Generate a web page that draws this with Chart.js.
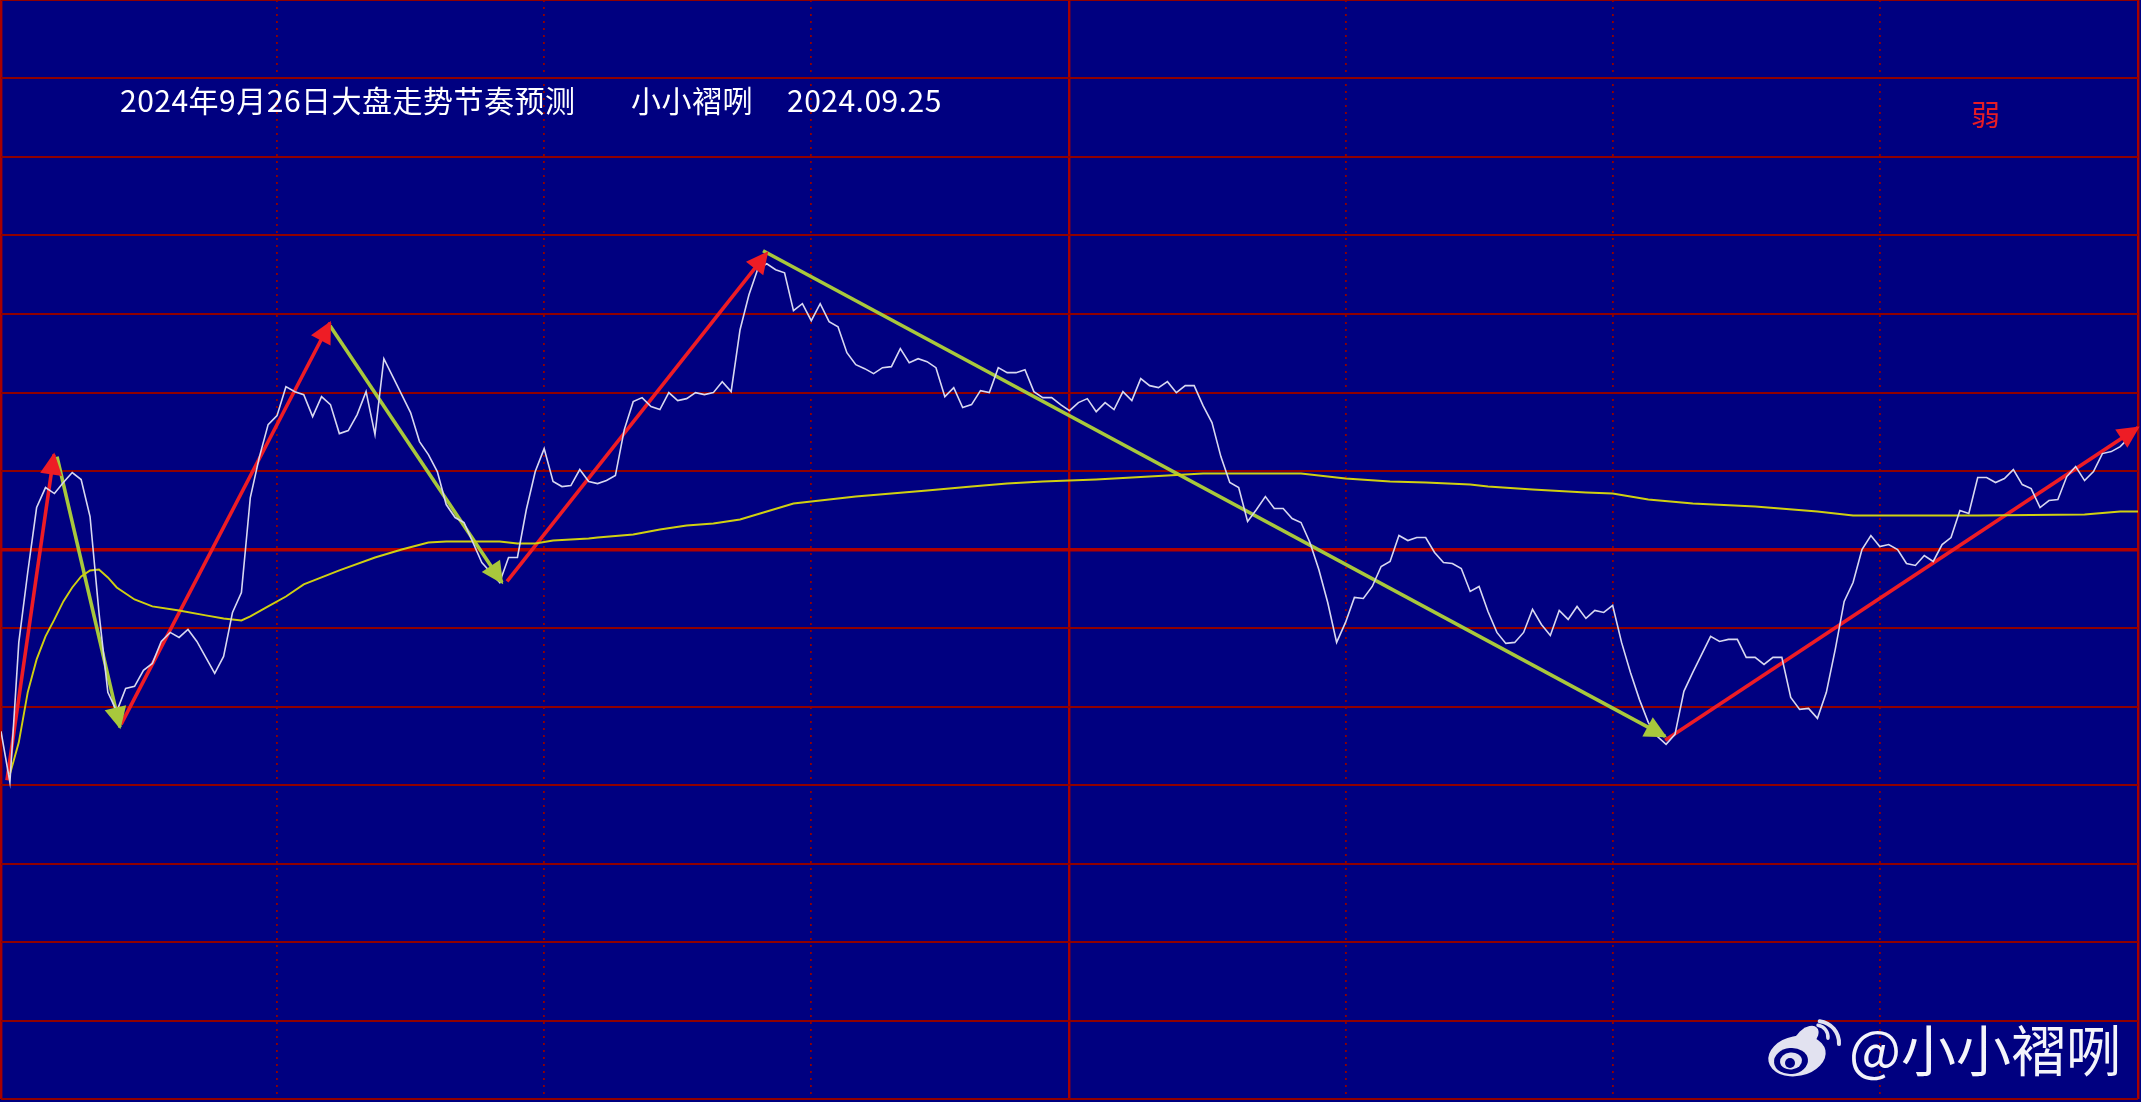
<!DOCTYPE html>
<html>
<head>
<meta charset="utf-8">
<title>2024年9月26日大盘走势节奏预测</title>
<script src="https://cdn.jsdelivr.net/npm/chart.js@4/dist/chart.umd.min.js"></script>
<style>
  html, body { margin: 0; padding: 0; background: #000080; overflow: hidden; }
  #wrap { width: 2141px; height: 1102px; }
</style>
</head>
<body>
<div id="wrap"><canvas id="chart" width="2141" height="1102"></canvas></div>
<script>
// minute line, one value per minute (240 minute session)
const priceLine = [
  -182,-233,-93,-23,42,62,56,67,77,70,33,-63,-143,-162,-139,-137,-121,-114,-92,-83,
  -88,-80,-92,-108,-124,-107,-63,-43,52,92,125,134,163,158,155,133,153,145,116,119,
  135,158,115,191,173,155,137,108,95,78,45,32,27,7,-13,-23,-33,-8,-8,40,
  78,101,68,63,64,80,68,66,69,74,120,148,152,143,140,157,149,151,157,155,
  157,168,158,220,255,281,286,280,277,239,246,229,246,228,223,197,185,181,176,182,
  183,201,187,191,188,182,153,162,142,145,159,157,182,177,177,180,158,152,152,145,
  139,147,151,138,147,140,158,149,171,164,162,168,157,164,164,144,127,93,67,62,
  28,40,53,41,41,31,27,7,-20,-53,-93,-73,-48,-49,-37,-17,-12,14,9,12,
  12,-3,-13,-14,-19,-42,-37,-62,-83,-94,-93,-83,-60,-75,-86,-61,-70,-57,-69,-61,
  -63,-56,-93,-123,-150,-173,-187,-195,-185,-142,-123,-105,-87,-92,-90,-90,-108,-108,-115,-108,
  -108,-148,-160,-159,-169,-143,-100,-52,-33,0,14,3,5,0,-14,-16,-6,-12,5,12,
  39,36,72,72,67,71,80,65,61,42,49,50,73,83,69,78,96,98,103,112
];

// slow average line, read at the minutes where it changes
const avgMinutes = [1,2,3,4,5,6,7,8,9,10,11,12,13,15,17,20,23,25,27,28,30,32,34,38,42,45,48,50,56,58,60,62,66,67,71,74,77,80,83,86,89,92,96,100,104,109,113,117,120,123,127,131,133,135,146,149,151,156,160,165,167,172,178,181,185,190,197,204,208,216,222,234,238,240];
const avgValues = [-225,-193,-143,-110,-87,-70,-52,-38,-27,-21,-20,-28,-38,-50,-57,-61,-66,-69,-71,-67,-57,-47,-35,-21,-8,0,7,8,8,6,6,9,11,12,15,20,24,26,30,38,46,49,53,56,59,63,66,68,69,70,72,74,75,76,76,73,71,68,67,65,63,60,57,56,50,46,43,38,34,34,34,35,38,38];

// hand drawn swing arrows: [start, end]
const upMinutes = [[0.67,5.95],[13.48,36.95],[56.83,86.03],[186.9,240]];
const upValues = [[-231,95],[-175,227],[-32,297],[-191,122]];
const downMinutes = [[6.29,13.36],[36.95,56.27],[85.58,186.9]];
const downValues = [[93,-178],[224,-33],[299,-187]];

// half hour marks, noon break is solid
const timeMarks = [0,31,61,91,120,151,181,211,240];
const solidMarks = [0,120,240];
const levelCount = 14;
const levelSpan = 1100;

const titleText = '2024年9月26日大盘走势节奏预测';
const authorText = '小小褶咧';
const dateText = '2024.09.25';
const signalText = '弱';
const watermarkText = '@小小褶咧';

function zip(xs, ys) {
  return xs.map((x, i) => ({ x: x, y: ys[i] }));
}

function arrowSets(xsList, ysList, color) {
  return xsList.map((xs, i) => ({
    data: zip(xs, ysList[i]),
    borderColor: color,
    borderWidth: 3.6,
    pointRadius: 0,
    arrowHead: color
  }));
}

const arrowHeads = {
  id: 'arrowHeads',
  afterDatasetsDraw(chart) {
    const c = chart.ctx;
    chart.data.datasets.forEach(ds => {
      if (!ds.arrowHead) return;
      const a = ds.data[0], b = ds.data[1];
      const x0 = chart.scales.x.getPixelForValue(a.x), y0 = chart.scales.y.getPixelForValue(a.y);
      const x1 = chart.scales.x.getPixelForValue(b.x), y1 = chart.scales.y.getPixelForValue(b.y);
      const ang = Math.atan2(y1 - y0, x1 - x0);
      c.save();
      c.translate(x1, y1);
      c.rotate(ang);
      c.fillStyle = ds.arrowHead;
      c.beginPath();
      c.moveTo(2, 0);
      c.lineTo(-20, -11);
      c.lineTo(-20, 11);
      c.closePath();
      c.fill();
      c.restore();
    });
  }
};

function drawWeibo(c) {
  c.save();
  c.fillStyle = '#e2e2f0';
  c.beginPath();
  c.ellipse(1797, 1056, 29, 20, -0.2, 0, Math.PI * 2);
  c.fill();
  c.beginPath();
  c.ellipse(1806, 1038, 15, 9, -0.75, 0, Math.PI * 2);
  c.fill();
  c.fillStyle = '#000080';
  c.beginPath();
  c.ellipse(1791, 1061, 17, 13, -0.1, 0, Math.PI * 2);
  c.fill();
  c.fillStyle = '#e2e2f0';
  c.beginPath();
  c.ellipse(1791, 1061, 11, 8.5, -0.1, 0, Math.PI * 2);
  c.fill();
  c.fillStyle = '#000080';
  c.beginPath();
  c.arc(1790, 1063, 5, 0, Math.PI * 2);
  c.fill();
  c.strokeStyle = '#e2e2f0';
  c.lineCap = 'round';
  c.lineWidth = 3.5;
  c.beginPath();
  c.arc(1816, 1037, 12, -1.4, 0.1);
  c.stroke();
  c.lineWidth = 4;
  c.beginPath();
  c.arc(1817, 1043, 22, -1.45, 0.05);
  c.stroke();
  c.restore();
}

const labels = {
  id: 'labels',
  afterDraw(chart) {
    const c = chart.ctx;
    c.save();
    c.textBaseline = 'middle';
    c.textAlign = 'left';
    c.fillStyle = '#ffffff';
    c.font = '30px "Noto Sans CJK SC"';
    c.letterSpacing = '0.5px';
    c.fillText(titleText, 120, 101);
    c.fillText(authorText, 631, 101);
    c.fillText(dateText, 787, 101);
    c.letterSpacing = '0px';
    c.fillStyle = '#e81c24';
    c.font = '29px "Noto Sans CJK SC"';
    c.fillText(signalText, 1971, 115);
    c.fillStyle = '#f4f4fa';
    c.font = '55px "Noto Sans CJK SC"';
    c.fillText(watermarkText, 1849, 1050);
    c.restore();
    drawWeibo(c);
  }
};

const background = {
  id: 'background',
  beforeDraw(chart) {
    chart.ctx.fillStyle = '#000080';
    chart.ctx.fillRect(0, 0, chart.width, chart.height);
  }
};

new Chart(document.getElementById('chart'), {
  type: 'line',
  data: {
    datasets: [
      { data: priceLine.map((v, i) => ({ x: i, y: v })), borderColor: '#d8d8f0', borderWidth: 1.6, pointRadius: 0 },
      { data: zip(avgMinutes, avgValues), borderColor: '#d0d010', borderWidth: 1.9, pointRadius: 0 }
    ].concat(arrowSets(downMinutes, downValues, '#a8c83c'), arrowSets(upMinutes, upValues, '#ee1c25'))
  },
  options: {
    responsive: false,
    animation: false,
    layout: { padding: { left: 1, right: 3, top: 0, bottom: 3 } },
    plugins: { legend: { display: false }, tooltip: { enabled: false }, title: { display: false } },
    elements: { line: { tension: 0 } },
    scales: {
      x: {
        type: 'linear',
        min: 0,
        max: 240,
        ticks: { display: false },
        afterBuildTicks: axis => { axis.ticks = timeMarks.map(v => ({ value: v })); },
        border: {
          display: false,
          dash: ctx => solidMarks.includes(ctx.tick.value) ? [] : [2, 5]
        },
        grid: {
          drawTicks: false,
          color: ctx => solidMarks.includes(ctx.tick.value) ? '#a80000' : '#900000',
          lineWidth: ctx => solidMarks.includes(ctx.tick.value) ? 2.4 : 1.8
        }
      },
      y: {
        min: -levelSpan / 2,
        max: levelSpan / 2,
        ticks: { display: false },
        afterBuildTicks: axis => {
          const t = [];
          for (let k = 0; k <= levelCount; k++) t.push({ value: -levelSpan / 2 + k * levelSpan / levelCount });
          axis.ticks = t;
        },
        border: { display: false },
        grid: {
          drawTicks: false,
          color: ctx => ctx.tick.value === 0 ? '#b00000' : '#900000',
          lineWidth: ctx => ctx.tick.value === 0 ? 3.4 : 2
        }
      }
    }
  },
  plugins: [background, arrowHeads, labels]
});
</script>
</body>
</html>
